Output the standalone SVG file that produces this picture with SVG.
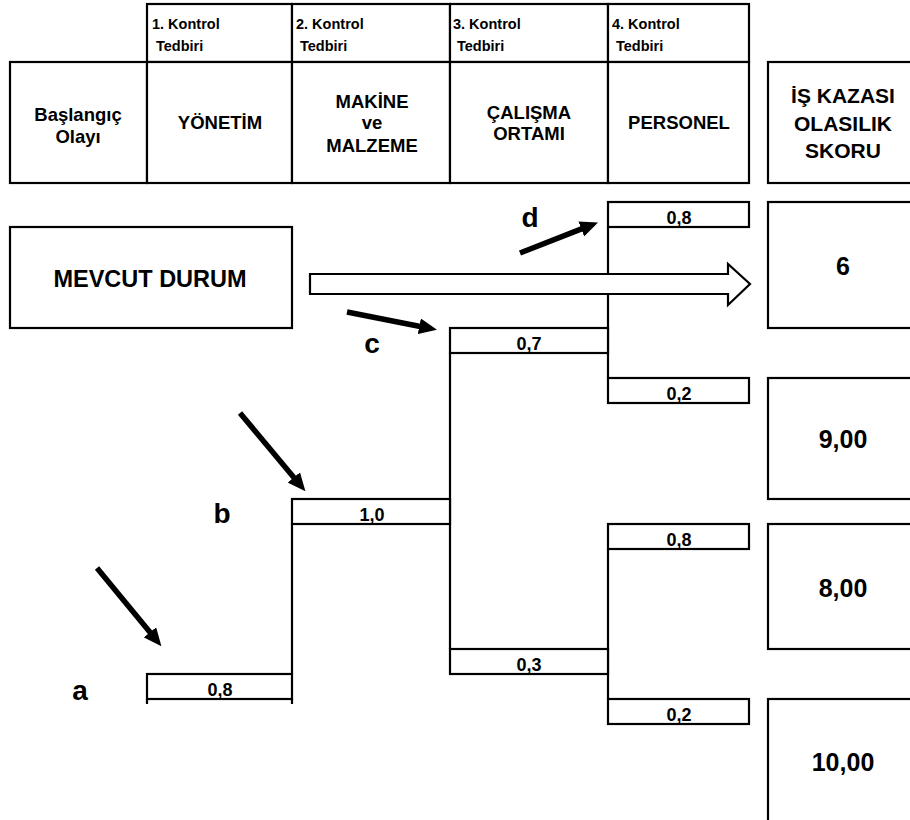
<svg xmlns="http://www.w3.org/2000/svg" width="910" height="820" viewBox="0 0 910 820">
<style>
.box{fill:#fff;stroke:#000;stroke-width:2.2}
.ln{fill:none;stroke:#000;stroke-width:2.2}
.t{font-family:"Liberation Sans",Arial,sans-serif;font-weight:bold;fill:#000}
.sm{font-size:14.5px}
.hd{font-size:18.5px;text-anchor:middle}
.pr{font-size:18px;text-anchor:middle}
.sc{font-size:25px;text-anchor:middle}
.lt{font-size:28px;text-anchor:middle}
.ar{fill:none;stroke:#000;stroke-width:5.5}
</style>
<defs>
<marker id="ah" viewBox="0 0 18 16" refX="1" refY="8" markerWidth="18" markerHeight="16" markerUnits="userSpaceOnUse" orient="auto">
<path d="M0,0 L18,8 L0,16 z" fill="#000"/>
</marker>
</defs>
<rect width="910" height="820" fill="#fff"/>

<g id="header">
<g id="h-kontrol1"><rect class="box" x="147" y="4" width="145" height="58"/><text class="t sm" x="152" y="29">1. Kontrol</text><text class="t sm" x="156" y="51">Tedbiri</text></g>
<g id="h-kontrol2"><rect class="box" x="292" y="4" width="158" height="58"/><text class="t sm" x="296" y="29">2. Kontrol</text><text class="t sm" x="300" y="51">Tedbiri</text></g>
<g id="h-kontrol3"><rect class="box" x="450" y="4" width="158" height="58"/><text class="t sm" x="453" y="29">3. Kontrol</text><text class="t sm" x="457" y="51">Tedbiri</text></g>
<g id="h-kontrol4"><rect class="box" x="608" y="4" width="141" height="58"/><text class="t sm" x="612" y="29">4. Kontrol</text><text class="t sm" x="616" y="51">Tedbiri</text></g>
<g id="h-baslangic"><rect class="box" x="10" y="62" width="137" height="121"/><text class="t hd" x="78" y="121">Başlangıç</text><text class="t hd" x="78" y="143">Olayı</text></g>
<g id="h-yonetim"><rect class="box" x="147" y="62" width="145" height="121"/><text class="t hd" x="220" y="129">YÖNETİM</text></g>
<g id="h-makine"><rect class="box" x="292" y="62" width="158" height="121"/><text class="t hd" x="372" y="108">MAKİNE</text><text class="t hd" x="372" y="129">ve</text><text class="t hd" x="372" y="152">MALZEME</text></g>
<g id="h-calisma"><rect class="box" x="450" y="62" width="158" height="121"/><text class="t hd" x="529" y="119">ÇALIŞMA</text><text class="t hd" x="529" y="140">ORTAMI</text></g>
<g id="h-personel"><rect class="box" x="608" y="62" width="141" height="121"/><text class="t hd" x="679" y="129">PERSONEL</text></g>
<g id="h-skor"><rect class="box" x="768" y="62" width="150" height="121"/><text class="t hd" x="843" y="103" style="font-size:21px">İŞ KAZASI</text><text class="t hd" x="843" y="131" style="font-size:21px">OLASILIK</text><text class="t hd" x="843" y="158" style="font-size:21px">SKORU</text></g>
</g>

<g id="connectors">
<line class="ln" x1="292" y1="524" x2="292" y2="674"/>
<line class="ln" x1="450" y1="353" x2="450" y2="649"/>
<line class="ln" x1="608" y1="227" x2="608" y2="378"/>
<line class="ln" x1="608" y1="549" x2="608" y2="699"/>
<line class="ln" x1="147" y1="699" x2="147" y2="704"/>
<line class="ln" x1="292" y1="699" x2="292" y2="704"/>
</g>

<g id="mevcut"><rect class="box" x="10" y="227" width="282" height="101"/><text class="t" x="150" y="287" text-anchor="middle" style="font-size:23.5px">MEVCUT DURUM</text></g>

<g id="p-a"><rect class="box" x="147" y="674" width="145" height="25"/><text class="t pr" x="220" y="696">0,8</text></g>
<g id="p-b"><rect class="box" x="292" y="499" width="158" height="25"/><text class="t pr" x="372" y="521">1,0</text></g>
<g id="p-c1"><rect class="box" x="450" y="328" width="158" height="25"/><text class="t pr" x="529" y="350">0,7</text></g>
<g id="p-c2"><rect class="box" x="450" y="649" width="158" height="25"/><text class="t pr" x="529" y="671">0,3</text></g>
<g id="p-d1"><rect class="box" x="608" y="202" width="141" height="25"/><text class="t pr" x="679" y="224">0,8</text></g>
<g id="p-d2"><rect class="box" x="608" y="378" width="141" height="25"/><text class="t pr" x="679" y="400">0,2</text></g>
<g id="p-d3"><rect class="box" x="608" y="524" width="141" height="25"/><text class="t pr" x="679" y="546">0,8</text></g>
<g id="p-d4"><rect class="box" x="608" y="699" width="141" height="25"/><text class="t pr" x="679" y="721">0,2</text></g>

<g id="s-6"><rect class="box" x="768" y="202" width="150" height="126"/><text class="t sc" x="843" y="275">6</text></g>
<g id="s-9"><rect class="box" x="768" y="378" width="150" height="121"/><text class="t sc" x="843" y="448">9,00</text></g>
<g id="s-8"><rect class="box" x="768" y="524" width="150" height="125"/><text class="t sc" x="843" y="597">8,00</text></g>
<g id="s-10"><rect class="box" x="768" y="699" width="150" height="140"/><text class="t sc" x="843" y="771">10,00</text></g>

<g id="main-arrow"><polygon class="box" points="310,274 728,274 728,264 750,284 728,305 728,294 310,294"/></g>

<g id="arrows">
<line class="ar" x1="97" y1="568" x2="150.6" y2="633.1" marker-end="url(#ah)"/>
<line class="ar" x1="240" y1="413" x2="294.5" y2="478.2" marker-end="url(#ah)"/>
<line class="ar" x1="347" y1="312" x2="420.3" y2="326.5" marker-end="url(#ah)"/>
<line class="ar" x1="520" y1="253" x2="582.2" y2="228.6" marker-end="url(#ah)"/>
</g>

<g id="labels">
<text class="t lt" x="80" y="700">a</text>
<text class="t lt" x="222" y="523">b</text>
<text class="t lt" x="372" y="353">c</text>
<text class="t lt" x="530" y="227">d</text>
</g>
</svg>
